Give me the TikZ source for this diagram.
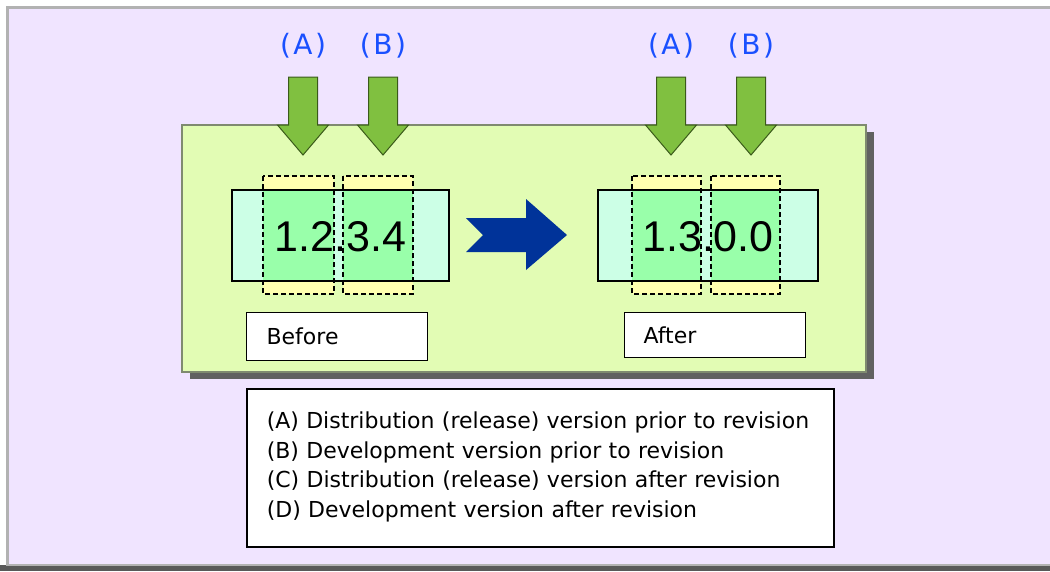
\documentclass[tikz,border=0pt]{standalone}
\usepackage{fontspec}
\setmainfont{DejaVu Sans}
\newfontfamily\numfont{Liberation Sans}
\definecolor{bgL}{HTML}{F0E4FF}
\definecolor{panelG}{HTML}{E2FCB4}
\definecolor{panelEdge}{HTML}{7F8A70}
\definecolor{mint}{HTML}{CCFFE6}
\definecolor{ylw}{HTML}{FFFFB0}
\definecolor{grn}{HTML}{99FFAA}
\definecolor{arrG}{HTML}{80C040}
\definecolor{arrEdge}{HTML}{3A5A1A}
\definecolor{navy}{HTML}{003399}
\definecolor{lblue}{HTML}{1A50FF}
\begin{document}
\begin{tikzpicture}[x=1pt,y=-1pt,
  toplabel/.style={text=lblue,font=\fontsize{28}{28}\selectfont,inner sep=0},
  garrow/.style={fill=arrG,draw=arrEdge,line width=1pt,line join=miter},
  numtext/.style={font=\numfont\fontsize{43}{43}\selectfont,inner sep=0},
  verbox/.style={draw=black,line width=1.2pt},
  dashbox/.style={draw=black,dash pattern=on 5pt off 3pt,line width=1.5pt},
  tagbox/.style={draw=black,fill=white,line width=1.2pt,anchor=north west,align=left,
     font=\fontsize{22}{22}\selectfont,inner ysep=0pt},
  legend/.style={draw=black,fill=white,line width=1.5pt,anchor=north west,align=left,
     font=\fontsize{22}{29.5}\selectfont,inner xsep=20pt,inner ysep=0pt,
     minimum width=587pt,minimum height=158pt,text width=547pt}
]
\useasboundingbox (0,0) rectangle (1050,571);
% outer frame
\fill[black!65] (0,565) rectangle (1050,571);
\fill[black!30] (6,6) rectangle (1050,566);
\fill[bgL] (8.5,8.5) rectangle (1050,564);
% green panel with shadow
\fill[black!62] (190,132) rectangle (874,379);
\filldraw[fill=panelG,draw=panelEdge,line width=1.5pt] (182,125) rectangle (866,372);

% down arrows and top labels
\foreach \cx/\lab/\nm in {303/A/la, 383/B/lb, 671/A/ra, 751/B/rb}{
  \node[toplabel] (\nm) at (\cx,46) {(\kern2.5pt\lab\kern2.5pt)};
  \draw[garrow] (\cx-14.5,77) -- (\cx+14.5,77) -- (\cx+14.5,125) -- (\cx+25.5,125)
     -- (\cx,155) -- (\cx-25.5,125) -- (\cx-14.5,125) -- cycle;
}

% left version box
\fill[ylw] (263,176) rectangle (334,294);
\fill[ylw] (343,176) rectangle (413,294);
\fill[mint] (232,190) rectangle (449,281);
\fill[grn] (263,190) rectangle (334,281);
\fill[grn] (343,190) rectangle (413,281);
\draw[verbox] (232,190) rectangle (449,281);
\draw[dashbox] (263,176) rectangle (334,294);
\draw[dashbox] (343,176) rectangle (413,294);
\node[numtext] (vold) at (340.5,236.5) {1.2.3.4};

% right version box
\fill[ylw] (632,176) rectangle (701,294);
\fill[ylw] (711,176) rectangle (780,294);
\fill[mint] (598,190) rectangle (818,281);
\fill[grn] (632,190) rectangle (701,281);
\fill[grn] (711,190) rectangle (780,281);
\draw[verbox] (598,190) rectangle (818,281);
\draw[dashbox] (632,176) rectangle (701,294);
\draw[dashbox] (711,176) rectangle (780,294);
\node[numtext] (vnew) at (708,236.5) {1.3.0.0};

% big blue arrow
\fill[navy] (466,218) -- (526,218) -- (526,199) -- (567,235) -- (526,270)
   -- (526,252) -- (466,252) -- (483,235) -- cycle;

% tags
\node[tagbox,minimum width=181pt,minimum height=48pt,inner xsep=20pt,text width=141pt]
  (before) at (246,312) {Before};
\node[tagbox,minimum width=181pt,minimum height=45pt,inner xsep=19pt,text width=143pt]
  (after) at (624,312) {After};

% legend
\node[legend] (leg) at (246,388) {\vspace*{0pt}\\[-14pt]
(A) Distribution (release) version prior to revision\\
(B) Development version prior to revision\\
(C) Distribution (release) version after revision\\
(D) Development version after revision};
\end{tikzpicture}
\end{document}
